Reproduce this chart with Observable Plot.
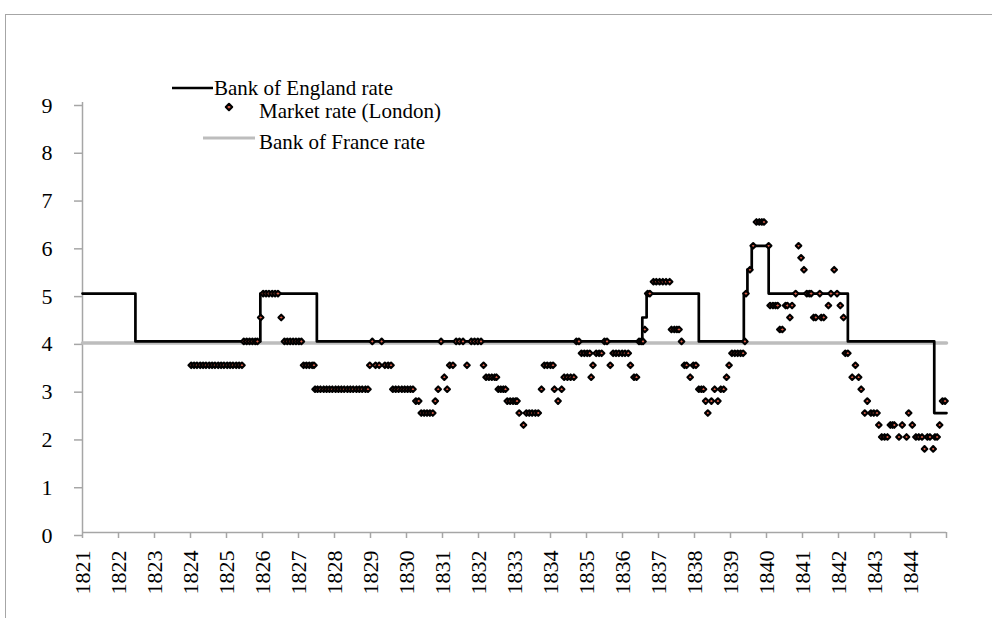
<!DOCTYPE html>
<html><head><meta charset="utf-8">
<script src="https://cdn.jsdelivr.net/npm/d3@7"></script>
<script src="https://cdn.jsdelivr.net/npm/@observablehq/plot@0.6"></script>
<style>
body{margin:0;background:#fff;}
#wrap{position:relative;width:992px;height:618px;overflow:hidden;font-family:"Liberation Serif",serif;}
#frame{position:absolute;left:5px;top:14px;width:1100px;height:800px;border-left:1.5px solid #a6a6a6;border-top:1.5px solid #a6a6a6;}
#chart{position:absolute;left:0;top:0;}
.leg{position:absolute;font-size:21px;color:#000;white-space:nowrap;line-height:22px;}
.sw{position:absolute;}
</style></head>
<body><div id="wrap"><div id="frame"></div><div id="chart"></div><div id="legend"></div></div>
<script>
// Bank of England rate (step changes)
const boeYear = [1821, 1822.47, 1825.94, 1827.51, 1836.55, 1836.67, 1838.12, 1839.37, 1839.47, 1839.59, 1840.06, 1842.26, 1844.66, 1845];
const boeRate = [5, 4, 5, 4, 4.5, 5, 4, 5, 5.5, 6, 5, 4, 2.5, 2.5];
// Bank of France rate
const bofYear = [1821, 1845];
const bofRate = [4, 4];
// Market rate (London)
const mktYear = [
 1824.02,1824.10,1824.18,1824.27,1824.35,1824.43,1824.52,1824.60,1824.68,1824.77,1824.85,1824.93,1825.02,1825.10,1825.18,1825.27,1825.35,1825.43,
 1825.48,1825.56,1825.64,1825.72,1825.80,1825.86,
 1825.95,
 1826.02,1826.10,1826.18,1826.27,1826.35,1826.43,
 1826.52,
 1826.61,1826.69,1826.77,1826.85,1826.93,1827.01,1827.08,
 1827.14,1827.22,1827.30,1827.38,1827.43,
 1827.46,1827.53,1827.61,1827.70,1827.78,1827.86,1827.94,1828.03,1828.11,1828.19,1828.27,1828.36,1828.44,1828.52,1828.61,1828.69,1828.77,1828.86,1828.93,
 1828.98,1829.05,1829.14,1829.24,1829.31,1829.40,1829.49,1829.57,
 1829.62,1829.70,1829.78,1829.87,1829.95,1830.03,1830.11,1830.18,
 1830.26,1830.34,
 1830.41,1830.49,1830.57,1830.65,1830.73,
 1830.80,1830.88,1830.96,1831.05,1831.13,
 1831.20,1831.29,
 1831.38,1831.47,1831.57,
 1831.68,
 1831.80,1831.89,1831.98,1832.07,
 1832.14,
 1832.21,1832.29,1832.37,1832.45,1832.50,
 1832.55,1832.62,1832.69,1832.75,
 1832.80,1832.88,1832.96,1833.03,1833.07,
 1833.13,1833.25,
 1833.33,1833.41,1833.49,1833.58,1833.66,
 1833.75,
 1833.83,1833.91,1834.00,1834.07,
 1834.11,1834.21,1834.31,
 1834.38,1834.47,1834.56,1834.65,
 1834.72,1834.79,
 1834.86,1834.94,1835.02,1835.09,
 1835.13,1835.18,
 1835.27,1835.35,1835.42,
 1835.50,1835.57,
 1835.66,
 1835.74,1835.82,1835.90,1835.99,1836.07,1836.16,
 1836.22,
 1836.32,1836.39,
 1836.46,1836.52,1836.57,
 1836.62,
 1836.70,1836.76,
 1836.86,1836.94,1837.03,1837.12,1837.21,1837.31,
 1837.36,1837.44,1837.51,1837.57,
 1837.64,
 1837.72,1837.78,
 1837.88,
 1837.97,1838.04,
 1838.12,1838.19,1838.25,
 1838.31,1838.37,1838.47,1838.56,1838.65,
 1838.73,1838.81,
 1838.89,1838.96,
 1839.04,1839.12,1839.20,1839.28,1839.35,
 1839.40,1839.43,1839.54,1839.63,
 1839.72,1839.80,1839.87,1839.93,
 1840.06,
 1840.10,1840.18,1840.25,1840.31,
 1840.37,1840.44,
 1840.53,1840.58,1840.65,1840.71,
 1840.81,1840.89,1840.96,1841.04,
 1841.12,1841.19,1841.24,
 1841.31,1841.37,1841.48,1841.52,1841.59,
 1841.72,1841.79,1841.88,1841.96,1842.05,1842.14,
 1842.19,1842.26,
 1842.38,1842.47,1842.56,1842.63,
 1842.73,1842.80,
 1842.90,1842.98,1843.07,
 1843.12,
 1843.20,1843.28,1843.36,
 1843.44,1843.50,1843.55,
 1843.68,1843.77,1843.89,1843.95,1844.05,
 1844.15,1844.23,1844.32,
 1844.39,
 1844.47,1844.54,
 1844.63,
 1844.68,1844.74,
 1844.81,
 1844.89,1844.96
];
const mktRate = [
 3.5,3.5,3.5,3.5,3.5,3.5,3.5,3.5,3.5,3.5,3.5,3.5,3.5,3.5,3.5,3.5,3.5,3.5,
 4,4,4,4,4,4,
 4.5,
 5,5,5,5,5,5,
 4.5,
 4,4,4,4,4,4,4,
 3.5,3.5,3.5,3.5,3.5,
 3,3,3,3,3,3,3,3,3,3,3,3,3,3,3,3,3,3,3,
 3.5,4,3.5,3.5,4,3.5,3.5,3.5,
 3,3,3,3,3,3,3,3,
 2.75,2.75,
 2.5,2.5,2.5,2.5,2.5,
 2.75,3,4,3.25,3,
 3.5,3.5,
 4,4,4,
 3.5,
 4,4,4,4,
 3.5,
 3.25,3.25,3.25,3.25,3.25,
 3,3,3,3,
 2.75,2.75,2.75,2.75,2.75,
 2.5,2.25,
 2.5,2.5,2.5,2.5,2.5,
 3,
 3.5,3.5,3.5,3.5,
 3,2.75,3,
 3.25,3.25,3.25,3.25,
 4,4,
 3.75,3.75,3.75,3.75,
 3.25,3.5,
 3.75,3.75,3.75,
 4,4,
 3.5,
 3.75,3.75,3.75,3.75,3.75,3.75,
 3.5,
 3.25,3.25,
 4,4,4,
 4.25,
 5,5,
 5.25,5.25,5.25,5.25,5.25,5.25,
 4.25,4.25,4.25,4.25,
 4,
 3.5,3.5,
 3.25,
 3.5,3.5,
 3,3,3,
 2.75,2.5,2.75,3,2.75,
 3,3,
 3.25,3.5,
 3.75,3.75,3.75,3.75,3.75,
 4,5,5.5,6,
 6.5,6.5,6.5,6.5,
 6,
 4.75,4.75,4.75,4.75,
 4.25,4.25,
 4.75,4.75,4.5,4.75,
 5,6,5.75,5.5,
 5,5,5,
 4.5,4.5,5,4.5,4.5,
 4.75,5,5.5,5,4.75,4.5,
 3.75,3.75,
 3.25,3.5,3.25,3,
 2.5,2.75,
 2.5,2.5,2.5,
 2.25,
 2,2,2,
 2.25,2.25,2.25,
 2,2.25,2,2.5,2.25,
 2,2,2,
 1.75,
 2,2,
 1.75,
 2,2,
 2.25,
 2.75,2.75
];
const yTicks = [0,1,2,3,4,5,6,7,8,9];
const xTicks = [1821,1822,1823,1824,1825,1826,1827,1828,1829,1830,1831,1832,1833,1834,1835,1836,1837,1838,1839,1840,1841,1842,1843,1844,1845];
const xTickLabels = ["1821","1822","1823","1824","1825","1826","1827","1828","1829","1830","1831","1832","1833","1834","1835","1836","1837","1838","1839","1840","1841","1842","1843","1844",""];
const seriesNames = ["Bank of England rate", "Market rate (London)", "Bank of France rate"];

const boe = boeYear.map((x, i) => ({x, y: boeRate[i]}));
const bof = bofYear.map((x, i) => ({x, y: bofRate[i]}));
const mkt = mktYear.map((x, i) => ({x, y: mktRate[i]}));

const axisGray = "#a6a6a6";
const chart = Plot.plot({
  width: 992, height: 618,
  marginLeft: 82, marginRight: 46, marginTop: 102, marginBottom: 86,
  x: {domain: [1821, 1845]},
  y: {domain: [0, 9]},
  style: {fontFamily: "'Liberation Serif', serif", fontSize: "22px", background: "transparent", color: "#000"},
  marks: [
    Plot.ruleY([0], {stroke: axisGray, strokeWidth: 1.5}),
    Plot.ruleX([1821], {stroke: axisGray, strokeWidth: 1.5}),
    Plot.axisY({ticks: yTicks, tickSize: 8, tickPadding: 22, stroke: axisGray, strokeWidth: 1.5, fill: "#000", label: null, fontSize: 22, dy: 3}),
    Plot.axisX({ticks: xTicks, tickFormat: d => xTickLabels[xTicks.indexOf(d)], tickRotate: -90, tickSize: 6, tickPadding: 12, stroke: axisGray, strokeWidth: 1.5, fill: "#000", label: null, fontSize: 22}),
    Plot.line(bof, {x: "x", y: "y", stroke: "#bdbdbd", strokeWidth: 3.5, dy: 1.5}),
    Plot.line(boe, {x: "x", y: "y", curve: "step-after", stroke: "#000", strokeWidth: 2.7}),
    Plot.dot(mkt, {x: "x", y: "y", symbol: "diamond2", r: 2.5, fill: "#d9604a", stroke: "#000", strokeWidth: 2.1, strokeLinejoin: "round"})
  ]
});
document.getElementById("chart").appendChild(chart);

// legend
const leg = document.getElementById("legend");
const items = [
  {label: seriesNames[0], sw: `<svg class="sw" style="left:172px;top:83px" width="42" height="10"><line x1="0" x2="41" y1="5" y2="5" stroke="#000" stroke-width="2.7"/></svg>`, left: 214, top: 77},
  {label: seriesNames[1], sw: `<svg class="sw" style="left:222px;top:100px" width="14" height="14"><path d="M7,3.8L10.2,7L7,10.2L3.8,7Z" fill="#d9604a" stroke="#000" stroke-width="2.1" stroke-linejoin="round"/></svg>`, left: 259, top: 100},
  {label: seriesNames[2], sw: `<svg class="sw" style="left:203px;top:133px" width="53" height="10"><line x1="0" x2="52" y1="5" y2="5" stroke="#bdbdbd" stroke-width="3"/></svg>`, left: 259, top: 131}
];
for (const it of items) {
  leg.insertAdjacentHTML("beforeend", it.sw + `<div class="leg" style="left:${it.left}px;top:${it.top}px">${it.label}</div>`);
}
</script>
</body></html>
